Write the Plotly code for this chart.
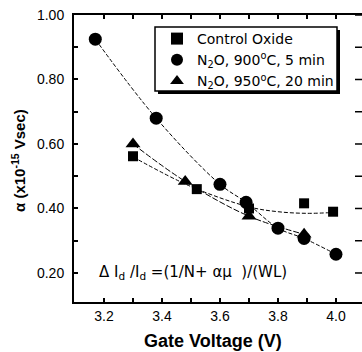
import plotly.graph_objects as go

# ---- data ----
ctrl_x = [3.30, 3.52, 3.70, 3.89, 3.99]
ctrl_y = [0.562, 0.460, 0.400, 0.416, 0.390]
ctrl_fit_x = [3.30, 3.50, 3.70, 3.80, 3.90, 4.00]
ctrl_fit_y = [0.560, 0.468, 0.405, 0.390, 0.385, 0.388]

n900_x = [3.17, 3.38, 3.60, 3.69, 3.80, 3.89, 4.00]
n900_y = [0.925, 0.680, 0.475, 0.419, 0.339, 0.307, 0.258]

n950_x = [3.30, 3.48, 3.70, 3.89]
n950_y = [0.600, 0.484, 0.376, 0.320]

x_ticks = [3.2, 3.3, 3.4, 3.5, 3.6, 3.7, 3.8, 3.9, 4.0]
x_labels = ["3.2", "", "3.4", "", "3.6", "", "3.8", "", "4.0"]
y_ticks = [0.2, 0.3, 0.4, 0.5, 0.6, 0.7, 0.8, 0.9, 1.0]
y_labels = ["0.20", "", "0.40", "", "0.60", "", "0.80", "", "1.00"]

names = ["Control Oxide",
         "N<sub>2</sub>O, 900<sup>o</sup>C, 5 min",
         "N<sub>2</sub>O, 950<sup>o</sup>C, 20 min"]

X_RANGE = [3.0966, 4.0897]
Y_RANGE = [0.11, 1.0]

FONT = "Liberation Sans, Arial, Helvetica, sans-serif"
WIDE = "DejaVu Sans, Verdana, sans-serif"
line_style = dict(color="black", width=1, dash="4px,2px", shape="spline")

fig = go.Figure()
# fit curves
fig.add_trace(go.Scatter(x=ctrl_fit_x, y=ctrl_fit_y, mode="lines", line=line_style,
                         showlegend=False, hoverinfo="skip"))
fig.add_trace(go.Scatter(x=n900_x, y=n900_y, mode="lines", line=line_style,
                         showlegend=False, hoverinfo="skip"))
fig.add_trace(go.Scatter(x=n950_x, y=n950_y, mode="lines",
                         line=dict(color="black", width=1, dash="6px,2px", shape="spline"),
                         showlegend=False, hoverinfo="skip"))
# markers
fig.add_trace(go.Scatter(x=ctrl_x, y=ctrl_y, mode="markers", name=names[0],
                         marker=dict(symbol="square", size=10, color="black")))
fig.add_trace(go.Scatter(x=n900_x, y=n900_y, mode="markers", name=names[1],
                         marker=dict(symbol="circle", size=13, color="black")))
fig.add_trace(go.Scatter(x=n950_x, y=n950_y, mode="markers", name=names[2],
                         marker=dict(symbol="triangle-up", size=13, color="black")))
# right-side inward tick marks (no axis line), clipped at the plot edge
fig.add_trace(go.Scatter(x=[X_RANGE[1]] * len(y_ticks), y=y_ticks, mode="markers",
                         marker=dict(symbol="line-ew", size=10,
                                     line=dict(color="black", width=1.5)),
                         showlegend=False, hoverinfo="skip", cliponaxis=True))

L, T, B = 74, 15, 50
W, H = 362, 352
pw, ph = W - L, H - T - B

def px(xp):
    return (xp - L) / pw

def py(yp):
    return (H - B - yp) / ph

fig.update_layout(
    width=W, height=H,
    margin=dict(l=L, r=0, t=T, b=B),
    paper_bgcolor="white", plot_bgcolor="white",
    font=dict(family=FONT, color="black", size=14),
    xaxis=dict(range=X_RANGE, tickvals=x_ticks, ticktext=x_labels,
               ticks="inside", ticklen=4, tickwidth=1.5, tickcolor="black",
               showline=True, linewidth=2, linecolor="black", mirror="ticks",
               showgrid=False, zeroline=False, tickfont=dict(size=14)),
    yaxis=dict(range=Y_RANGE, tickvals=y_ticks, ticktext=y_labels,
               ticks="inside", ticklen=4, tickwidth=1.5, tickcolor="black",
               showline=True, linewidth=2, linecolor="black",
               showgrid=False, zeroline=False, tickfont=dict(size=14),
               ticklabelstandoff=5),
    legend=dict(x=px(157), y=py(23), xanchor="left", yanchor="top",
                bgcolor="rgba(0,0,0,0)", borderwidth=0,
                font=dict(size=14, family=WIDE), tracegroupgap=0,
                itemsizing="constant"),
    shapes=[
        dict(type="rect", xref="paper", yref="paper",
             x0=px(158), x1=px(340), y0=py(94), y1=py(30),
             fillcolor="black", line=dict(width=0), layer="below"),
        dict(type="rect", xref="paper", yref="paper",
             x0=px(155), x1=px(337), y0=py(91), y1=py(27),
             fillcolor="white", line=dict(color="black", width=1.5), layer="below"),
    ],
    annotations=[
        dict(text="<b>α (x10<sup>-15</sup> Vsec)</b>", textangle=-90,
             xref="paper", yref="paper", x=px(18), y=py(161),
             xanchor="center", yanchor="middle", showarrow=False,
             font=dict(size=15)),
        dict(text="<b>Gate Voltage (V)</b>",
             xref="paper", yref="paper", x=px(213), y=py(341),
             xanchor="center", yanchor="middle", showarrow=False,
             font=dict(size=18)),
        dict(text="Δ I<sub>d</sub> /I<sub>d</sub> =(1/N+ αμ  )/(WL)",
             xref="paper", yref="paper", x=px(97), y=py(272),
             xanchor="left", yanchor="middle", showarrow=False,
             font=dict(size=15, family=WIDE)),
    ],
)

fig.write_html("out.html", config={"displayModeBar": False})
